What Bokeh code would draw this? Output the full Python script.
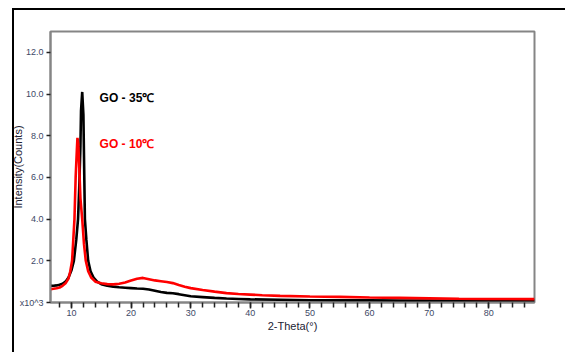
import math
from bokeh.plotting import figure
from bokeh.models import Range1d, FixedTicker, Label, InlineStyleSheet, Title
from bokeh.embed import file_html
from bokeh.resources import INLINE

# GO - 35°C (black), intensity in x10^3 counts
x_35 = [6.5, 7.0, 7.5, 8.0, 8.5, 9.0, 9.5, 10.0, 10.4, 10.8, 11.1, 11.3, 11.5, 11.6, 11.8,
        12.0, 12.1, 12.25, 12.5, 12.8, 13.2, 13.7, 14.3, 15.0, 16.0, 17.0, 18.0, 19.0, 20.0,
        21.0, 22.0, 23.0, 24.0, 25.0, 26.0, 27.0, 28.0, 29.0, 30.0, 32.0, 34.0, 36.0, 38.0,
        40.0, 45.0, 50.0, 55.0, 60.0, 65.0, 70.0, 75.0, 80.0, 87.7]
y_35 = [0.80, 0.80, 0.82, 0.85, 0.90, 1.00, 1.20, 1.55, 2.00, 3.00, 4.00, 5.50, 7.50, 9.20, 10.10,
        9.00, 7.00, 4.00, 3.00, 2.00, 1.50, 1.20, 1.00, 0.88, 0.80, 0.76, 0.73, 0.71, 0.69,
        0.67, 0.66, 0.62, 0.56, 0.50, 0.46, 0.44, 0.40, 0.35, 0.30, 0.26, 0.22, 0.19, 0.17,
        0.15, 0.13, 0.11, 0.10, 0.10, 0.09, 0.09, 0.08, 0.08, 0.08]

# GO - 10°C (red)
x_10 = [6.5, 7.0, 7.5, 8.0, 8.5, 9.0, 9.5, 9.8, 10.1, 10.3, 10.5, 10.7, 10.9, 11.0, 11.15,
        11.3, 11.5, 11.8, 12.1, 12.4, 12.8, 13.3, 14.0, 15.0, 16.0, 17.0, 18.0, 19.0, 20.0,
        21.0, 22.0, 23.0, 24.0, 25.0, 26.0, 27.0, 28.0, 29.0, 30.0, 32.0, 34.0, 36.0, 38.0,
        40.0, 42.0, 45.0, 50.0, 55.0, 60.0, 65.0, 70.0, 75.0, 80.0, 87.7]
y_10 = [0.64, 0.66, 0.68, 0.72, 0.80, 0.92, 1.15, 1.50, 2.00, 3.00, 4.00, 6.00, 7.30, 7.90, 7.60,
        6.50, 5.00, 4.00, 2.80, 2.00, 1.50, 1.20, 1.00, 0.92, 0.88, 0.87, 0.90, 0.96, 1.05,
        1.14, 1.18, 1.12, 1.06, 1.02, 0.98, 0.93, 0.84, 0.76, 0.69, 0.60, 0.52, 0.45, 0.41,
        0.38, 0.35, 0.32, 0.29, 0.27, 0.24, 0.22, 0.20, 0.18, 0.17, 0.16]

x_major = [10, 20, 30, 40, 50, 60, 70, 80]
x_minor = [8, 10, 12, 14, 16, 18, 20, 22, 24, 26, 28, 30, 32, 34, 36, 38, 40, 42, 44, 46, 48,
           50, 52, 54, 56, 58, 60, 62, 64, 66, 68, 70, 72, 74, 76, 78, 80, 82, 84, 86]
y_major = [0, 2, 4, 6, 8, 10, 12]
y_labels = ["x10^3", "2.0", "4.0", "6.0", "8.0", "10.0", "12.0"]

labels = ["GO - 35\u2103", "GO - 10\u2103"]
label_colors = ["black", "#ff0000"]
x_title = "2-Theta(\u00b0)"
y_title = "Intensity(Counts)"

FONT = "Liberation Sans"
AXIS_GREY = "#858585"

frame_css = InlineStyleSheet(css="""
:host { position: relative; }
:host::after {
  content: "";
  position: absolute;
  left: 12px; top: 8px;
  width: calc(100% - 12px); height: calc(100% - 8px);
  border-top: 2px solid black; border-left: 2px solid black;
  box-sizing: border-box;
  pointer-events: none;
  z-index: 10;
}
""")

p = figure(width=565, height=352, output_backend="svg", toolbar_location=None,
           x_range=Range1d(6.48, 87.67), y_range=Range1d(0, 13),
           min_border_left=50, min_border_right=31, min_border_top=31, min_border_bottom=50)
p.stylesheets = [frame_css]
p.xgrid.visible = False
p.ygrid.visible = False
p.outline_line_color = AXIS_GREY
p.outline_line_width = 2
p.background_fill_color = "white"
p.border_fill_color = "white"

p.line(x_35, y_35, line_color="black", line_width=2.6)
p.line(x_10, y_10, line_color="#ff0000", line_width=2.6)

for ax in (p.xaxis[0], p.yaxis[0]):
    ax.axis_line_color = AXIS_GREY
    ax.axis_line_width = 2
    ax.major_tick_line_color = "#222222"
    ax.minor_tick_line_color = "#222222"
    ax.major_tick_line_width = 1.5
    ax.minor_tick_line_width = 1.5
    ax.major_tick_in = 0
    ax.major_tick_out = 6
    ax.minor_tick_in = 0
    ax.minor_tick_out = 5
    ax.major_label_text_font = FONT
    ax.major_label_text_font_size = "9px"
    ax.major_label_text_color = "#3d4866"
    ax.axis_label_text_font = FONT
    ax.axis_label_text_font_size = "11px"
    ax.axis_label_text_font_style = "normal"
    ax.axis_label_text_color = "#222233"

p.xaxis[0].ticker = FixedTicker(ticks=x_major, minor_ticks=x_minor)
p.xaxis[0].axis_label = x_title
p.xaxis[0].major_label_standoff = 1
p.xaxis[0].axis_label_standoff = 1

p.yaxis[0].ticker = FixedTicker(ticks=y_major, minor_ticks=[])
p.yaxis[0].major_tick_out = 4
p.yaxis[0].major_label_standoff = 3
p.yaxis[0].major_label_overrides = {t: s for t, s in zip(y_major, y_labels)}

# y axis title as a side title, pulled toward the axis
ytitle = Title(text=y_title, align="center", text_font=FONT, text_font_size="11px",
               text_font_style="normal", text_color="#222233")
try:
    ytitle.standoff = -14
except Exception:
    ytitle.standoff = 0
p.add_layout(ytitle, "left")

p.add_layout(Label(x=14.72, y=9.82, text=labels[0], text_color=label_colors[0],
                   text_font=FONT, text_font_size="12px", text_font_style="bold",
                   text_baseline="middle", text_align="left"))
p.add_layout(Label(x=14.72, y=7.6, text=labels[1], text_color=label_colors[1],
                   text_font=FONT, text_font_size="12px", text_font_style="bold",
                   text_baseline="middle", text_align="left"))

open("out.html", "w").write(file_html(p, INLINE))
